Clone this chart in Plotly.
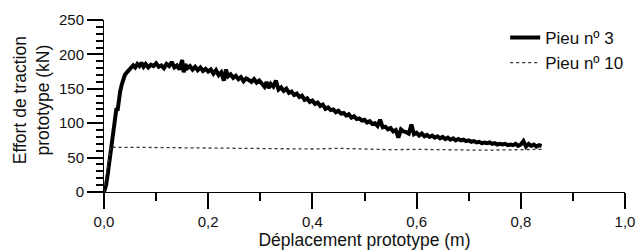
import plotly.graph_objects as go

# ---- data ----
pieu3_x = [0.000, 0.004, 0.007, 0.010, 0.012, 0.015, 0.018, 0.020, 0.022, 0.024,
           0.026, 0.028, 0.031, 0.034, 0.037, 0.040, 0.044, 0.048, 0.052, 0.056,
           0.060, 0.064, 0.068, 0.072, 0.076, 0.080, 0.085, 0.090, 0.095, 0.100,
           0.105, 0.110, 0.115, 0.120, 0.125, 0.130, 0.135, 0.140, 0.145, 0.150,
           0.153, 0.156, 0.160, 0.165, 0.170, 0.175, 0.180, 0.185, 0.190, 0.195,
           0.200, 0.205, 0.210, 0.215, 0.220, 0.225, 0.230, 0.234, 0.238, 0.243,
           0.248, 0.253, 0.258, 0.263, 0.268, 0.273, 0.278, 0.283, 0.288, 0.293,
           0.298, 0.303, 0.308, 0.312, 0.316, 0.320, 0.325, 0.330, 0.335, 0.340,
           0.345, 0.350, 0.355, 0.360, 0.365, 0.370, 0.375, 0.380, 0.385, 0.390,
           0.395, 0.400, 0.405, 0.410, 0.415, 0.420, 0.425, 0.430, 0.435, 0.440,
           0.445, 0.450, 0.455, 0.460, 0.465, 0.470, 0.475, 0.480, 0.485, 0.490,
           0.495, 0.500, 0.505, 0.510, 0.515, 0.520, 0.525, 0.530, 0.535, 0.540,
           0.545, 0.550, 0.555, 0.560, 0.565, 0.570, 0.575, 0.580, 0.585, 0.590,
           0.595, 0.600, 0.605, 0.610, 0.615, 0.620, 0.625, 0.630, 0.635, 0.640,
           0.645, 0.650, 0.655, 0.660, 0.665, 0.670, 0.675, 0.680, 0.685, 0.690,
           0.695, 0.700, 0.705, 0.710, 0.715, 0.720, 0.725, 0.730, 0.735, 0.740,
           0.745, 0.750, 0.755, 0.760, 0.765, 0.770, 0.775, 0.780, 0.785, 0.790,
           0.795, 0.800, 0.805, 0.810, 0.815, 0.820, 0.825, 0.830, 0.835, 0.840]
pieu3_y = [0, 10, 25, 42, 55, 72, 92, 100, 112, 122,
           118, 134, 146, 156, 164, 170, 174, 178, 180, 184,
           181, 186, 183, 188, 182, 186, 181, 185, 183, 187,
           182, 184, 180, 186, 183, 189, 181, 184, 178, 192,
           174, 186, 180, 183, 178, 182, 177, 181, 176, 179,
           175, 178, 172, 177, 170, 174, 162, 178, 168, 171,
           166, 169, 164, 167, 161, 165, 163, 160, 164, 159,
           162, 157, 153, 160, 151, 157, 153, 162, 149, 152,
           147, 150, 144, 146, 141, 143, 138, 140, 134, 136,
           131, 133, 128, 130, 125, 127, 121, 123, 119, 120,
           116, 118, 114, 115, 111, 113, 108, 110, 106, 107,
           104, 105, 101, 103, 99, 100, 96, 105, 94, 95,
           91, 93, 88, 90, 79, 91, 88, 87, 85, 98,
           84, 86, 82, 85, 81, 83, 80, 82, 79, 81,
           78, 80, 77, 79, 76, 78, 75, 77, 75, 76,
           74, 75, 73, 74, 72, 73, 71, 72, 71, 72,
           70, 71, 69, 70, 69, 70, 68, 69, 68, 70,
           67, 69, 74, 66, 70, 67, 69, 66, 68, 67]

pieu10_x = [0.000, 0.003, 0.006, 0.009, 0.012, 0.015, 0.020, 0.050, 0.100, 0.150,
            0.200, 0.250, 0.300, 0.350, 0.400, 0.450, 0.500, 0.550, 0.600, 0.650,
            0.700, 0.750, 0.800, 0.840]
pieu10_y = [0, 15, 35, 52, 62, 67, 65, 65, 64.5, 64,
            64, 63.5, 63, 62.5, 62.5, 63.5, 62, 61.5, 62, 61,
            61, 61, 61, 62]

y_ticks = [0, 50, 100, 150, 200, 250]

FONT = "Liberation Sans, Arial, sans-serif"
TICKFONT = dict(family=FONT, size=15, color="#111111")
TITLEFONT = dict(family=FONT, size=17.5, color="#111111")

fig = go.Figure()
fig.add_trace(go.Scatter(x=pieu3_x, y=pieu3_y, mode="lines", name="Pieu nº 3",
                         line=dict(color="black", width=4)))
fig.add_trace(go.Scatter(x=pieu10_x, y=pieu10_y, mode="lines", name="Pieu nº 10",
                         line=dict(color="#333333", width=1.3, dash="dot")))

fig.update_layout(
    width=641, height=250,
    margin=dict(l=104, r=16, t=20, b=58),
    paper_bgcolor="white", plot_bgcolor="white",
    separators=", ",
    showlegend=True,
    legend=dict(x=0.77, y=1.0, xanchor="left", yanchor="top",
                font=dict(size=17, family=FONT, color="#111111"),
                bgcolor="rgba(0,0,0,0)", borderwidth=0, tracegroupgap=0),
)
fig.update_xaxes(
    range=[0, 1.0], gridcolor="white", zeroline=False, automargin=False,
    showline=True, linecolor="black",
    ticks="outside", ticklen=16, tickwidth=2, tickcolor="black",
    dtick=0.2, tick0=0, tickformat=".1f", tickfont=TICKFONT,
    minor=dict(dtick=0.1, ticks="outside", ticklen=8, tickwidth=2,
               tickcolor="black", showgrid=False),
    title=dict(text="Déplacement prototype (m)", font=TITLEFONT, standoff=4),
)
fig.update_yaxes(
    range=[0, 250], gridcolor="white", zeroline=False, automargin=False,
    showline=True, linecolor="black",
    ticks="outside", ticklen=16, tickwidth=2, tickcolor="black",
    tickvals=y_ticks, tickfont=TICKFONT,
    minor=dict(dtick=10, ticks="outside", ticklen=7, tickwidth=1.5,
               tickcolor="black", showgrid=False),
)
fig.add_annotation(
    text="Effort de traction<br>prototype (kN)",
    xref="paper", yref="paper", x=-0.14, y=0.534,
    xanchor="center", yanchor="middle", textangle=-90, showarrow=False,
    font=TITLEFONT,
)

fig.write_html("out.html", config={"displayModeBar": False},
               post_script="document.body.style.margin='0px';document.body.style.padding='0px';")
